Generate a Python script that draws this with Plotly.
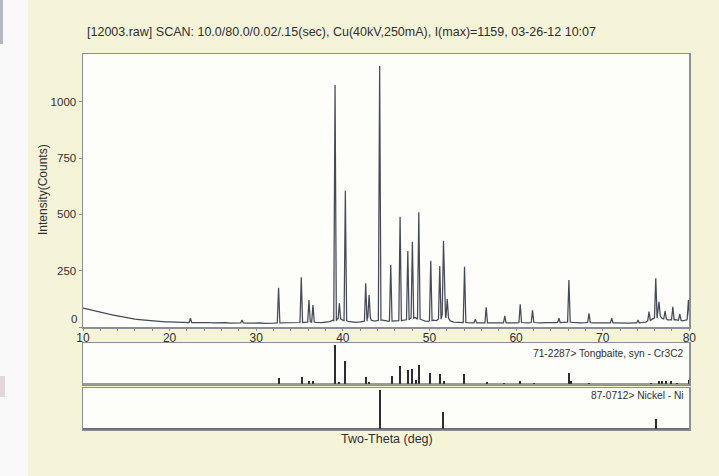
import plotly.graph_objects as go

# ---------------- data ----------------
title_text = "[12003.raw] SCAN: 10.0/80.0/0.02/.15(sec), Cu(40kV,250mA), I(max)=1159, 03-26-12 10:07"

# diffraction peaks of the measured scan (2-theta, apex counts, local base counts)
peak_theta = [22.40, 28.35, 32.58, 35.20, 36.09, 36.55, 39.10, 39.60, 40.29, 42.64,
              43.03, 44.25, 45.53, 46.61, 47.50, 48.03, 48.77, 50.15, 51.19, 51.62,
              52.05, 54.05, 55.30, 56.55, 58.70, 60.48, 61.90, 64.95, 66.10, 68.42,
              71.04, 74.08, 75.35, 76.13, 76.50, 77.20, 78.10, 78.90, 79.90]
peak_counts = [39, 31, 174, 221, 120, 98, 1075, 105, 605, 194,
               142, 1159, 275, 490, 337, 379, 509, 294, 271, 383,
               124, 268, 35, 87, 49, 101, 74, 39, 209, 61,
               39, 31, 68, 216, 112, 71, 90, 58, 120]
peak_base = [20, 18, 18, 20, 22, 22, 28, 35, 28, 26,
             40, 30, 26, 28, 32, 40, 35, 28, 35, 55,
             40, 20, 18, 18, 18, 20, 20, 20, 22, 20,
             18, 18, 28, 40, 50, 36, 32, 30, 32]

# background of the scan between peaks
bg_theta = [10.0, 10.5, 11.0, 11.5, 12.0, 12.5, 13.0, 13.5, 14.0, 14.5, 15.0, 15.5,
            16.0, 16.5, 17.0, 17.5, 18.0, 18.5, 19.0, 19.5, 20.0, 20.5, 21.0, 21.5,
            22.0, 23.0, 23.5, 24.0, 24.5, 25.0, 25.5, 26.0, 26.5, 27.0, 27.5, 28.0,
            29.0, 29.5, 30.0, 30.5, 31.0, 31.5, 32.0, 33.0, 33.5, 34.0, 34.5, 35.6,
            36.3, 36.9, 37.5, 38.0, 38.5, 38.85, 39.35, 39.9, 40.6, 41.0, 41.5, 42.0,
            42.35, 42.84, 43.3, 43.7, 44.0, 44.6, 45.0, 45.3, 45.8, 46.2, 46.9, 47.2,
            47.77, 48.35, 49.1, 49.5, 49.9, 50.45, 50.8, 51.41, 51.85, 52.4, 52.8, 53.3,
            53.7, 54.4, 54.8, 55.8, 56.2, 56.9, 57.5, 58.0, 58.4, 59.1, 59.6, 60.1,
            60.9, 61.4, 62.3, 62.8, 63.5, 64.0, 64.5, 65.4, 65.8, 66.5, 67.0, 67.5,
            68.0, 68.9, 69.5, 70.0, 70.5, 71.5, 72.0, 72.5, 73.0, 73.5, 73.8, 74.5,
            75.0, 75.7, 76.32, 76.8, 77.0, 77.5, 77.8, 78.4, 78.65, 79.2, 79.5, 79.7]
bg_counts = [84, 79, 75, 71, 66, 62, 57, 53, 49, 45, 41, 38,
             35, 33, 31, 28, 27, 25, 25, 23, 23, 22, 21, 22,
             20, 20, 21, 19, 20, 18, 19, 18, 19, 17, 18, 18,
             17, 18, 17, 18, 16, 18, 17, 18, 17, 18, 19, 21,
             24, 20, 19, 21, 24, 30, 38, 32, 25, 22, 21, 23,
             25, 45, 30, 26, 30, 30, 26, 25, 26, 27, 29, 30,
             38, 42, 32, 26, 25, 30, 28, 55, 50, 27, 22, 20,
             19, 19, 18, 18, 18, 18, 17, 18, 17, 18, 17, 18,
             19, 18, 19, 18, 19, 18, 19, 20, 20, 21, 19, 18,
             19, 18, 17, 18, 17, 18, 17, 18, 17, 18, 18, 20,
             22, 35, 60, 40, 36, 32, 34, 33, 30, 27, 28, 30]

# reference patterns (stick positions and relative heights, %)
cr3c2_theta = [32.66, 35.28, 36.05, 36.50, 39.05, 39.60, 40.30, 42.70, 43.00, 45.69,
               46.57, 47.53, 48.00, 48.40, 48.80, 50.04, 51.20, 51.66, 53.97, 56.60,
               58.60, 60.44, 62.06, 66.10, 66.30, 68.40, 75.60, 76.50, 76.90, 77.30,
               77.90, 78.60, 79.95]
cr3c2_height = [16, 20, 10, 8, 100, 6, 59, 18, 7, 22,
                47, 37, 38, 12, 50, 28, 27, 8, 27, 6,
                5, 10, 5, 28, 8, 5, 5, 10, 8, 10,
                8, 5, 12]
ni_theta = [44.25, 51.60, 76.13]
ni_height = [100, 45, 25]

cr3c2_label = "71-2287> Tongbaite, syn - Cr3C2"
ni_label = "87-0712> Nickel - Ni"
x_ticks = [10, 20, 30, 40, 50, 60, 70, 80]
y_ticks = [0, 250, 500, 750, 1000]

# ---------------- build the scan profile from the read values ----------------
half_w = 0.15
pts = list(zip(bg_theta, bg_counts))
for p, h, b in zip(peak_theta, peak_counts, peak_base):
    pts += [(p - half_w, b), (p, h), (p + half_w, b)]
pts.sort(key=lambda t: t[0])
scan_x = [t[0] for t in pts]
scan_y = [t[1] for t in pts]

W, H = 719, 476
def px(x):
    return x / W
def py(y):
    return 1 - y / H

FONT = "Liberation Sans, Arial, sans-serif"
TXT = "#2f2f33"
BOX = "#8c8e96"
CREAM = "#f6f4d8"
PLOT_BG = "#fdfdf9"

fig = go.Figure()
fig.add_trace(go.Scatter(x=scan_x, y=scan_y, mode="lines",
                         line=dict(color="#454a58", width=1.25),
                         xaxis="x", yaxis="y", showlegend=False, hoverinfo="skip"))
fig.add_trace(go.Bar(x=cr3c2_theta, y=cr3c2_height, width=0.23,
                     marker=dict(color="#2c2c32", line=dict(width=0)),
                     xaxis="x2", yaxis="y2", showlegend=False))
fig.add_trace(go.Bar(x=ni_theta, y=ni_height, width=0.23,
                     marker=dict(color="#2c2c32", line=dict(width=0)),
                     xaxis="x3", yaxis="y3", showlegend=False))

xdom = [px(83), px(689.3)]
common_x = dict(range=[10, 80], showgrid=False, zeroline=False, showline=True,
                mirror=True, linecolor=BOX, linewidth=1.5, domain=xdom)

fig.update_layout(
    width=W, height=H,
    margin=dict(l=0, r=0, t=0, b=0, autoexpand=False),
    paper_bgcolor=CREAM, plot_bgcolor=PLOT_BG,
    font=dict(family=FONT, color=TXT, size=11),
    bargap=0,
    hovermode=False,
    xaxis=dict(**common_x, anchor="y", tickvals=x_ticks,
               ticks="outside", ticklen=2, tickcolor=BOX, tickwidth=1,
               ticklabelstandoff=-3,
               minor=dict(dtick=2, ticks="outside", ticklen=2, tickcolor=BOX),
               tickfont=dict(size=12, color=TXT, family=FONT)),
    yaxis=dict(domain=[py(327), py(54.3)], range=[0, 1211], anchor="x",
               tickvals=y_ticks, ticktext=["", "250", "500", "750", "1000"],
               ticks="outside", ticklen=3, tickcolor=BOX,
               showgrid=False, zeroline=False, showline=True, mirror=True,
               linecolor=BOX, linewidth=1.5,
               tickfont=dict(size=11.5, color=TXT, family=FONT)),
    xaxis2=dict(**common_x, anchor="y2", showticklabels=False, ticks=""),
    yaxis2=dict(domain=[py(384.5), py(343.3)], range=[0, 104], anchor="x2",
                showticklabels=False, ticks="", showgrid=False, zeroline=False,
                showline=True, mirror=True, linecolor=BOX, linewidth=1.5),
    xaxis3=dict(**common_x, anchor="y3", showticklabels=False, ticks=""),
    yaxis3=dict(domain=[py(429.3), py(388.3)], range=[0, 104], anchor="x3",
                showticklabels=False, ticks="", showgrid=False, zeroline=False,
                showline=True, mirror=True, linecolor=BOX, linewidth=1.5),
)

shapes = [
    # left white strip of the scanned page
    dict(type="rect", xref="paper", yref="paper", x0=0, x1=px(28), y0=0, y1=1,
         fillcolor="#f9f9f9", line=dict(width=0), layer="below"),
    dict(type="rect", xref="paper", yref="paper", x0=0, x1=px(3), y0=py(44), y1=1,
         fillcolor="#b3b9bf", line=dict(width=0), layer="below"),
    dict(type="rect", xref="paper", yref="paper", x0=0, x1=px(5), y0=py(397), y1=py(376),
         fillcolor="#e2d6d6", line=dict(width=0), layer="below"),
    # dark baselines of the stick panels
    dict(type="line", xref="x2", yref="y2", x0=10, x1=80, y0=0, y1=0,
         line=dict(color="#3c3c42", width=2)),
    dict(type="line", xref="x3", yref="y3", x0=10, x1=80, y0=0, y1=0,
         line=dict(color="#3c3c42", width=2)),
]
fig.update_layout(shapes=shapes)

ann = [
    dict(text=title_text, x=px(85), y=py(32), xanchor="left", yanchor="middle",
         font=dict(size=12.5, color=TXT)),
    dict(text="Intensity(Counts)", x=px(43), y=py(190), textangle=-90,
         xanchor="center", yanchor="middle", font=dict(size=12, color=TXT)),
    dict(text="0", x=px(79), y=py(319), xanchor="right", yanchor="middle",
         font=dict(size=11.5, color=TXT)),
    dict(text="Two-Theta (deg)", x=px(387), y=py(439), xanchor="center",
         yanchor="middle", font=dict(size=12.5, color=TXT)),
    dict(text=cr3c2_label, x=px(686), y=py(353), xanchor="right", yanchor="middle",
         font=dict(size=10.2, color=TXT)),
    dict(text=ni_label, x=px(686), y=py(395), xanchor="right", yanchor="middle",
         font=dict(size=10.2, color=TXT)),
]
for a in ann:
    a.update(xref="paper", yref="paper", showarrow=False)
fig.update_layout(annotations=ann)

fig.write_html("out.html", config={"displayModeBar": False, "staticPlot": True},
               post_script="document.body.style.margin='0px';document.body.style.overflow='hidden';")
